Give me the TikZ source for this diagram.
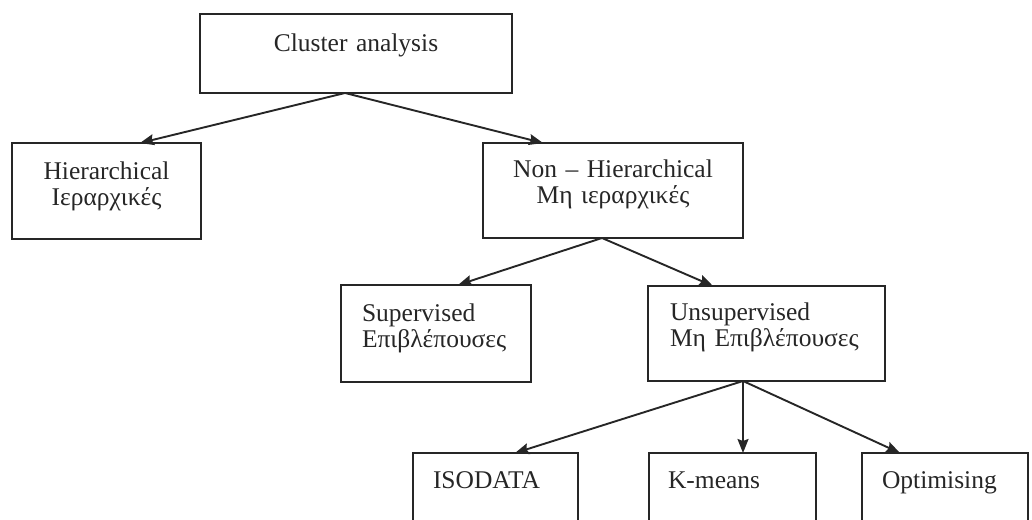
\documentclass[tikz,border=0pt]{standalone}
\usepackage{fontspec}
\setmainfont{Liberation Serif}
\usetikzlibrary{arrows.meta}
\definecolor{ink}{HTML}{262626}
\begin{document}
\begin{tikzpicture}[x=1pt,y=-1pt,
  box/.style={draw=ink, line width=2.2pt, anchor=north west, outer sep=0pt,
    inner ysep=0pt, font=\fontsize{25.5}{26.5}\selectfont, text=ink},
  cbox/.style={box, inner xsep=0pt, align=center},
  lbox/.style={box, align=left},
  arr/.style={draw=ink, line width=1.9pt, -{Stealth[length=14pt,width=11pt,inset=2pt]}}]
\useasboundingbox (0,0) rectangle (1032,519);
\clip (0,0) rectangle (1032,519);

\node[cbox, text width=312pt, text height=38pt, text depth=41pt] (ca) at (200,14) {Cluster analysis};
\node[cbox, text width=189pt, text height=36pt, text depth=60pt] (hier) at (12,143) {Hierarchical\\Ιεραρχικές};
\node[cbox, text width=260pt, text height=34pt, text depth=61pt] (non) at (483,143) {Non – Hierarchical\\Μη ιεραρχικές};
\node[lbox, inner xsep=21pt, text width=148pt, text height=36pt, text depth=61pt] (sup) at (341,285) {Supervised\\Επιβλέπουσες};
\node[lbox, inner xsep=22pt, text width=193pt, text height=34pt, text depth=61pt] (unsup) at (648,286) {Unsupervised\\Μη Επιβλέπουσες};
\node[lbox, inner xsep=20pt, text width=125pt, text height=35pt, text depth=70pt] (iso) at (413,453) {ISODATA};
\node[lbox, inner xsep=19pt, text width=129pt, text height=35pt, text depth=70pt] (km) at (649,453) {K-means};
\node[lbox, inner xsep=20pt, text width=126pt, text height=35pt, text depth=70pt] (opt) at (862,453) {Optimising};

\draw[arr] ([xshift=145pt]ca.south west) -- ([xshift=128pt]hier.north west);
\draw[arr] ([xshift=145pt]ca.south west) -- ([xshift=60pt]non.north west);
\draw[arr] ([xshift=119pt]non.south west) -- ([xshift=117pt]sup.north west);
\draw[arr] ([xshift=119pt]non.south west) -- ([xshift=65pt]unsup.north west);
\draw[arr] ([xshift=95pt]unsup.south west) -- ([xshift=102pt]iso.north west);
\draw[arr] ([xshift=95pt]unsup.south west) -- ([xshift=94pt]km.north west);
\draw[arr] ([xshift=95pt]unsup.south west) -- ([xshift=38pt]opt.north west);
\end{tikzpicture}
\end{document}
